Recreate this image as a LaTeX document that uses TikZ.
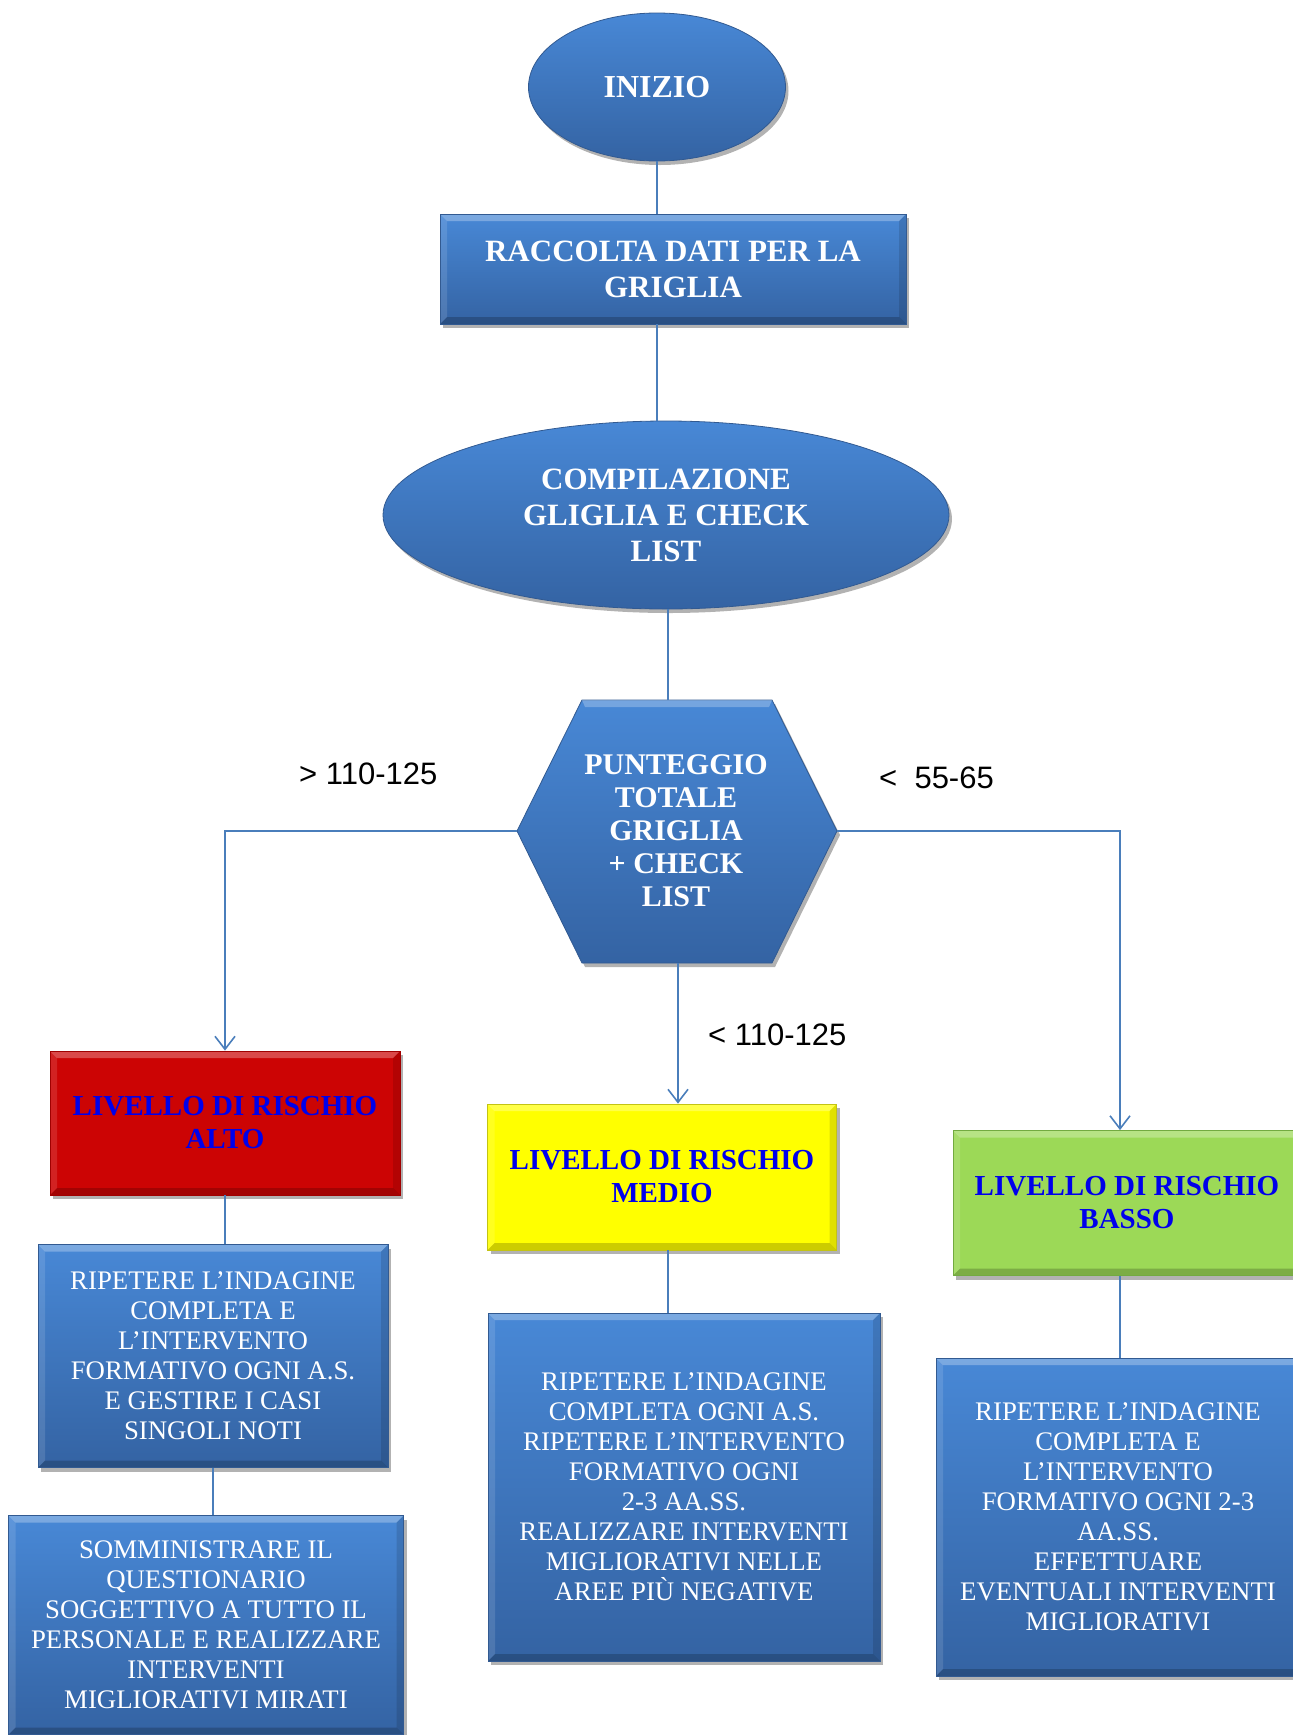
\documentclass[tikz,border=0pt]{standalone}
\usepackage{fontspec}
\setmainfont{Liberation Serif}
\newfontfamily\labelfont{Liberation Sans}
\usetikzlibrary{shapes.geometric,arrows.meta,shadows}

\definecolor{bluetop}{RGB}{72,136,214}
\definecolor{bluebot}{RGB}{52,99,163}
\definecolor{blueedge}{RGB}{50,90,145}
\definecolor{redfill}{RGB}{204,4,4}
\definecolor{rededge}{RGB}{160,0,0}
\definecolor{yelfill}{RGB}{255,255,0}
\definecolor{yeledge}{RGB}{195,195,20}
\definecolor{grnfill}{RGB}{156,217,87}
\definecolor{grnedge}{RGB}{115,170,65}
\definecolor{txtblue}{RGB}{0,0,235}
\definecolor{linecol}{RGB}{74,126,187}

\begin{document}
\begin{tikzpicture}[x=1pt,y=-1pt,
 shadowed/.style={drop shadow={shadow xshift=3pt,shadow yshift=-4pt,opacity=0.3,fill=black}},
 bevel/.style={path picture={
   \fill[white,opacity=0.28] (path picture bounding box.north west) -- (path picture bounding box.north east)
     -- ([xshift=-7pt,yshift=-7pt]path picture bounding box.north east) -- ([xshift=7pt,yshift=-7pt]path picture bounding box.north west) -- cycle;
   \fill[white,opacity=0.12] (path picture bounding box.north west) -- ([xshift=7pt,yshift=-7pt]path picture bounding box.north west)
     -- ([xshift=7pt,yshift=7pt]path picture bounding box.south west) -- (path picture bounding box.south west) -- cycle;
   \fill[black,opacity=0.12] (path picture bounding box.north east) -- ([xshift=-7pt,yshift=-7pt]path picture bounding box.north east)
     -- ([xshift=-7pt,yshift=7pt]path picture bounding box.south east) -- (path picture bounding box.south east) -- cycle;
   \fill[black,opacity=0.2] (path picture bounding box.south west) -- (path picture bounding box.south east)
     -- ([xshift=-7pt,yshift=7pt]path picture bounding box.south east) -- ([xshift=7pt,yshift=7pt]path picture bounding box.south west) -- cycle;
 }},
 blueshape/.style={shadowed, top color=bluetop, bottom color=bluebot, draw=blueedge, line width=0.8pt},
 titletext/.style={text=white, font=\fontsize{31}{36}\selectfont\bfseries, align=center},
 bodybox/.style={blueshape, bevel, rectangle, text=white, font=\fontsize{26.8}{30}\selectfont, align=center, inner sep=0pt},
 levelbox/.style={shadowed, bevel, rectangle, text=txtblue, font=\fontsize{29}{33}\selectfont\bfseries, align=center, inner sep=0pt, line width=0.8pt},
 conn/.style={draw=linecol, line width=1.6pt},
 arr/.style={conn, -{Straight Barb[length=13pt,width=20pt,line width=1.6pt]}},
 lbl/.style={font=\labelfont\fontsize{31}{34}\selectfont, inner sep=0pt, anchor=west}
]
\useasboundingbox (0,0) rectangle (1293,1735);
\clip (0,0) rectangle (1293,1735);

% top chain
\node[blueshape, ellipse, minimum width=257pt, minimum height=148pt, inner sep=0pt, titletext,
      font=\fontsize{32}{36}\selectfont\bfseries] (inizio) at (657,87) {INIZIO};
\node[blueshape, bevel, rectangle, minimum width=466pt, minimum height=110pt, inner sep=0pt, titletext]
      (raccolta) at (673,269) {RACCOLTA DATI PER LA\\GRIGLIA};
\node[blueshape, ellipse, minimum width=566pt, minimum height=188pt, inner sep=0pt, titletext]
      (compil) at (666,515) {COMPILAZIONE\\GLIGLIA E CHECK\\LIST};

% hexagon
\path[blueshape] (582,700) -- (772,700) -- (837,831) -- (772,963) -- (582,963) -- (517,831) -- cycle;
\fill[white,opacity=0.25] (582,700) -- (772,700) -- (769,707) -- (585,707) -- cycle;
\coordinate (hexN) at (668,700);
\coordinate (hexW) at (517,831);
\coordinate (hexE) at (837,831);
\coordinate (hexS) at (678,963);
\node[titletext, font=\fontsize{30}{33}\selectfont\bfseries, inner sep=0pt] (hex) at (676,831)
      {PUNTEGGIO\\TOTALE\\GRIGLIA\\+ CHECK\\LIST};

% level boxes
\node[levelbox, fill=redfill, draw=rededge, minimum width=350pt, minimum height=144pt]
      (alto) at (225,1123) {LIVELLO DI RISCHIO\\ALTO};
\node[levelbox, fill=yelfill, draw=yeledge, minimum width=349pt, minimum height=146pt]
      (medio) at (662,1177) {LIVELLO DI RISCHIO\\MEDIO};
\node[levelbox, fill=grnfill, draw=grnedge, minimum width=348pt, minimum height=145pt]
      (basso) at (1127,1203) {LIVELLO DI RISCHIO\\BASSO};

% body boxes
\node[bodybox, minimum width=350pt, minimum height=223pt] (box1) at (213,1356)
      {RIPETERE L’INDAGINE\\COMPLETA E\\L’INTERVENTO\\FORMATIVO OGNI A.S.\\E GESTIRE I CASI\\SINGOLI NOTI};
\node[bodybox, minimum width=395pt, minimum height=219pt] (box2) at (206,1625)
      {SOMMINISTRARE IL\\QUESTIONARIO\\SOGGETTIVO A TUTTO IL\\PERSONALE E REALIZZARE\\INTERVENTI\\MIGLIORATIVI MIRATI};
\node[bodybox, minimum width=392pt, minimum height=348pt] (mbody) at (684,1487)
      {RIPETERE L’INDAGINE\\COMPLETA OGNI A.S.\\RIPETERE L’INTERVENTO\\FORMATIVO OGNI\\2-3 AA.SS.\\REALIZZARE INTERVENTI\\MIGLIORATIVI NELLE\\AREE PIÙ NEGATIVE};
\node[bodybox, minimum width=364pt, minimum height=318pt] (bbody) at (1118,1517)
      {RIPETERE L’INDAGINE\\COMPLETA E\\L’INTERVENTO\\FORMATIVO OGNI 2-3\\AA.SS.\\EFFETTUARE\\EVENTUALI INTERVENTI\\MIGLIORATIVI};

\coordinate (rcol) at (1120,0);
\coordinate (mcol) at (668,0);

% connectors
\draw[conn] (inizio.south) -- (inizio.south |- raccolta.north);
\draw[conn] (raccolta.south -| inizio.south) -- (compil.north -| inizio.south);
\draw[conn] (mcol |- compil.south) -- (mcol |- hexN);
\draw[arr] (hexW) -| (alto.north);
\draw[arr] (hexS) -- (hexS |- medio.north);
\draw[arr] (hexE) -| (rcol |- basso.north);
\draw[conn] (alto.south) -- (alto.south |- box1.north);
\draw[conn] (box1.south) -- (box1.south |- box2.north);
\draw[conn] (mcol |- medio.south) -- (mcol |- mbody.north);
\draw[conn] (rcol |- basso.south) -- (rcol |- bbody.north);

% labels
\node[lbl] (lblA) at (299,774) {> 110-125};
\node[lbl] (lblB) at (879,778) {<~~55-65};
\node[lbl] (lblC) at (708,1035) {< 110-125};
\end{tikzpicture}
\end{document}
